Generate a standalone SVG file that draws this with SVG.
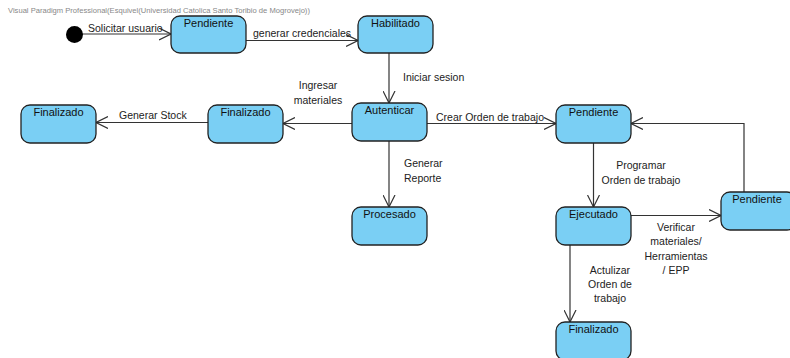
<svg xmlns="http://www.w3.org/2000/svg" width="790" height="358" viewBox="0 0 790 358">
  <style>
    .state rect { fill: #7acff4; stroke: #222; stroke-width: 1.3; }
    .state text { font-family: "Liberation Sans", Arial, sans-serif; font-size: 11px; fill: #111; text-anchor: middle; }
    .edge { fill: none; stroke: #333; stroke-width: 1.2; }
    .lbl { font-family: "Liberation Sans", Arial, sans-serif; font-size: 10.5px; fill: #222; }
    .mid { text-anchor: middle; }
    .hdr { font-family: "Liberation Sans", Arial, sans-serif; font-size: 7.6px; fill: #888; }
  </style>
  <defs>
    <marker id="open" viewBox="0 0 13 13" refX="12" refY="6.5" markerWidth="13" markerHeight="13" markerUnits="userSpaceOnUse" orient="auto">
      <path d="M0,0.5 L12,6.5 L0,12.5" fill="none" stroke="#333" stroke-width="1.2"/>
    </marker>
  </defs>
  <rect width="790" height="358" fill="#fff"/>
  <text class="hdr" x="8" y="13">Visual Paradigm Professional(Esquivel(Universidad Catolica Santo Toribio de Mogrovejo))</text>

  <!-- transitions -->
  <g id="connectors">
    <path class="edge" d="M82,34 H171" marker-end="url(#open)"/>
    <path class="edge" d="M246,40.5 H358" marker-end="url(#open)"/>
    <path class="edge" d="M389,53 V103" marker-end="url(#open)"/>
    <path class="edge" d="M352,123.5 H283" marker-end="url(#open)"/>
    <path class="edge" d="M208,122.5 H96" marker-end="url(#open)"/>
    <path class="edge" d="M389,141 V207" marker-end="url(#open)"/>
    <path class="edge" d="M427,123.5 H556" marker-end="url(#open)"/>
    <path class="edge" d="M593.5,143 V207" marker-end="url(#open)"/>
    <path class="edge" d="M631,215.5 H721" marker-end="url(#open)"/>
    <path class="edge" d="M744,192 V123.5 H631" marker-end="url(#open)"/>
    <path class="edge" d="M570,245 V322" marker-end="url(#open)"/>
  </g>

  <!-- transition labels -->
  <g id="labels">
    <text class="lbl" x="88" y="32">Solicitar usuario</text>
    <text class="lbl" x="253" y="37">generar credenciales</text>
    <text class="lbl" x="403" y="81">Iniciar sesion</text>
    <text class="lbl mid" x="318" y="89">Ingresar</text>
    <text class="lbl mid" x="318" y="104">materiales</text>
    <text class="lbl" x="119" y="119">Generar Stock</text>
    <text class="lbl" x="436" y="121">Crear Orden de trabajo</text>
    <text class="lbl" x="404" y="167">Generar</text>
    <text class="lbl" x="404" y="182">Reporte</text>
    <text class="lbl mid" x="641" y="169">Programar</text>
    <text class="lbl mid" x="641" y="184">Orden de trabajo</text>
    <text class="lbl mid" x="676" y="231">Verificar</text>
    <text class="lbl mid" x="676" y="245">materiales/</text>
    <text class="lbl mid" x="676" y="260">Herramientas</text>
    <text class="lbl mid" x="676" y="274">/ EPP</text>
    <text class="lbl mid" x="610" y="274">Actulizar</text>
    <text class="lbl mid" x="610" y="288">Orden de</text>
    <text class="lbl mid" x="610" y="302">trabajo</text>
  </g>

  <!-- states -->
  <g id="initial"><circle cx="74.5" cy="34.5" r="8.5" fill="#000"/></g>
  <g id="pendiente1" class="state"><rect x="171" y="16" width="75" height="37" rx="9"/><text x="208.5" y="27">Pendiente</text></g>
  <g id="habilitado" class="state"><rect x="358" y="16" width="75" height="37" rx="9"/><text x="395.5" y="27">Habilitado</text></g>
  <g id="autenticar" class="state"><rect x="352" y="103" width="75" height="38" rx="9"/><text x="389.5" y="114">Autenticar</text></g>
  <g id="finalizado1" class="state"><rect x="208" y="105" width="75" height="38" rx="9"/><text x="245.5" y="116">Finalizado</text></g>
  <g id="finalizado2" class="state"><rect x="21" y="105" width="75" height="38" rx="9"/><text x="58.5" y="116">Finalizado</text></g>
  <g id="procesado" class="state"><rect x="352" y="207" width="75" height="38" rx="9"/><text x="389.5" y="218">Procesado</text></g>
  <g id="pendiente2" class="state"><rect x="556" y="105" width="75" height="38" rx="9"/><text x="593.5" y="116">Pendiente</text></g>
  <g id="ejecutado" class="state"><rect x="556" y="207" width="75" height="38" rx="9"/><text x="593.5" y="218">Ejecutado</text></g>
  <g id="pendiente3" class="state"><rect x="721" y="192" width="75" height="38" rx="9"/><text x="757" y="203">Pendiente</text></g>
  <g id="finalizado3" class="state"><rect x="556" y="322" width="75" height="38" rx="9"/><text x="593.5" y="333">Finalizado</text></g>
</svg>
